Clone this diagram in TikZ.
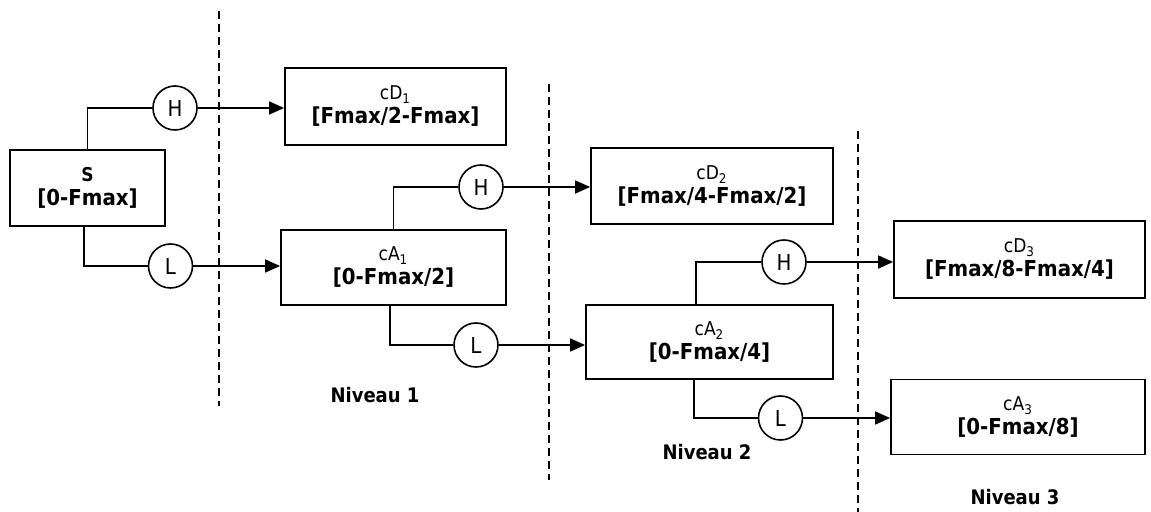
\documentclass[tikz,border=0pt]{standalone}
\usepackage{fontspec}
\setmainfont{DejaVu Sans Condensed}
\usetikzlibrary{arrows.meta}
\newcommand{\bandtxt}[2]{{\fontsize{9.5}{10}\selectfont #1}\\[0pt]{\fontsize{11}{12}\selectfont\bfseries #2}}
\begin{document}
\begin{tikzpicture}[x=0.5pt,y=-0.5pt,
    band/.style={draw,line width=0.9pt,align=center,inner sep=0pt},
    filt/.style={draw,circle,line width=0.8pt,minimum size=22pt,inner sep=0pt,font=\fontsize{11}{12}\selectfont},
    wire/.style={line width=0.8pt},
    arr/.style={line width=0.8pt,-{Triangle[length=7.5pt,width=6.5pt]}},
    sep/.style={line width=0.8pt,dash pattern=on 4pt off 2.5pt},
    lvl/.style={font=\fontsize{10}{12}\selectfont\bfseries}]
    \useasboundingbox (0,0) rectangle (1151,512);
    \draw[sep] (219,11) -- (219,406);
    \draw[sep] (549,84) -- (549,480);
    \draw[sep] (858,131) -- (858,512);
    \node[band,minimum width=77.5pt,minimum height=38pt] (S) at (87.5,188)
        {{\fontsize{9.5}{10}\selectfont\bfseries S}\\[0pt]{\fontsize{11}{12}\selectfont\bfseries [0-Fmax]}};
    \node[band,minimum width=110.5pt,minimum height=38.5pt] (cD1) at (395.5,106.5)
        {\bandtxt{cD\textsubscript{1}}{[Fmax/2-Fmax]}};
    \node[band,minimum width=112.5pt,minimum height=37.5pt] (cA1) at (393.5,267.5)
        {\bandtxt{cA\textsubscript{1}}{[0-Fmax/2]}};
    \node[band,minimum width=121pt,minimum height=38pt] (cD2) at (712,186)
        {\bandtxt{cD\textsubscript{2}}{[Fmax/4-Fmax/2]}};
    \node[band,minimum width=123.5pt,minimum height=37pt] (cA2) at (709.5,342)
        {\bandtxt{cA\textsubscript{2}}{[0-Fmax/4]}};
    \node[band,minimum width=125.5pt,minimum height=38.5pt] (cD3) at (1019.5,259.5)
        {\bandtxt{cD\textsubscript{3}}{[Fmax/8-Fmax/4]}};
    \node[band,minimum width=127pt,minimum height=37.5pt] (cA3) at (1018,417)
        {\bandtxt{cA\textsubscript{3}}{[0-Fmax/8]}};
    \node[filt] (H1) at (175,108) {H};
    \node[filt] (L1) at (170.5,266) {L};
    \node[filt] (H2) at (481,187) {H};
    \node[filt] (L2) at (476,345) {L};
    \node[filt] (H3) at (784,262) {H};
    \node[filt] (L3) at (780.5,418) {L};
    \draw[wire] (S.north) |- (H1.west);
    \draw[wire] ([xshift=-1.75pt]S.south) |- (L1.west);
    \draw[wire] (cA1.north) |- (H2.west);
    \draw[wire] ([xshift=-1.75pt]cA1.south) |- (L2.west);
    \draw[wire] ([xshift=-6.75pt]cA2.north) |- (H3.west);
    \draw[wire] ([xshift=-7.75pt]cA2.south) |- (L3.west);
    \draw[arr] (H1.east) -- (H1 -| cD1.west);
    \draw[arr] (L1.east) -- (L1 -| cA1.west);
    \draw[arr] (H2.east) -- (H2 -| cD2.west);
    \draw[arr] (L2.east) -- (L2 -| cA2.west);
    \draw[arr] (H3.east) -- (H3 -| cD3.west);
    \draw[arr] (L3.east) -- (L3 -| cA3.west);
    \node[lvl] (N1) at (375,395) {Niveau 1};
    \node[lvl] (N2) at (707,452) {Niveau 2};
    \node[lvl] (N3) at (1015,497) {Niveau 3};
\end{tikzpicture}
\end{document}
